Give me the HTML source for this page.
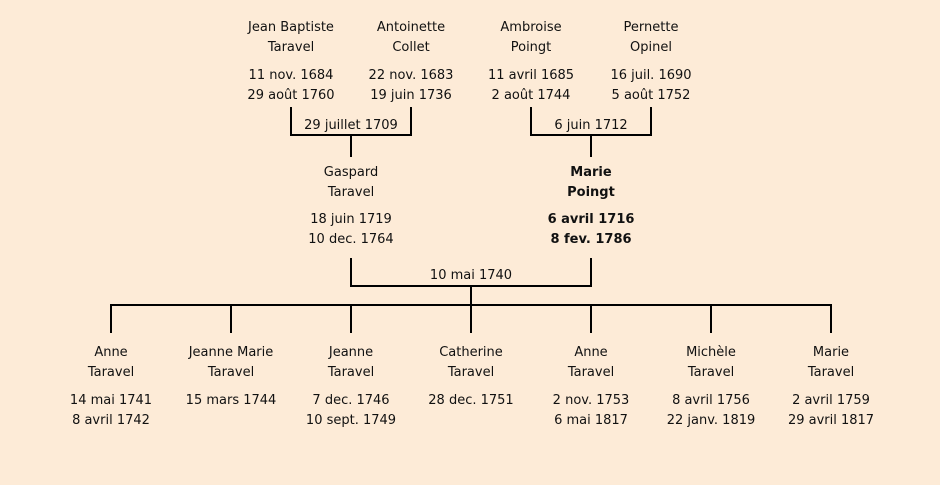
<!DOCTYPE html>
<html><head><meta charset="utf-8"><style>
body{margin:0;width:940px;height:485px;background:#fdebd7;position:relative;overflow:hidden;font-family:"DejaVu Sans","Liberation Sans",sans-serif;font-size:13px;color:#111}
.t{position:absolute;width:160px;margin-left:-80px;text-align:center;line-height:20px;white-space:nowrap}
.b{font-weight:bold}
.l{position:absolute;background:#000}
</style></head><body>
<div class="t" style="left:291px;top:18px">Jean Baptiste<br>Taravel</div>
<div class="t" style="left:291px;top:66px">11 nov. 1684<br>29 août 1760</div>
<div class="t" style="left:411px;top:18px">Antoinette<br>Collet</div>
<div class="t" style="left:411px;top:66px">22 nov. 1683<br>19 juin 1736</div>
<div class="t" style="left:531px;top:18px">Ambroise<br>Poingt</div>
<div class="t" style="left:531px;top:66px">11 avril 1685<br>2 août 1744</div>
<div class="t" style="left:651px;top:18px">Pernette<br>Opinel</div>
<div class="t" style="left:651px;top:66px">16 juil. 1690<br>5 août 1752</div>

<div class="l" style="left:290px;top:107px;width:2px;height:29px"></div>
<div class="l" style="left:410px;top:107px;width:2px;height:29px"></div>
<div class="l" style="left:290px;top:134px;width:122px;height:2px"></div>
<div class="l" style="left:350px;top:134px;width:2px;height:23px"></div>
<div class="t" style="left:351px;top:116px">29 juillet 1709</div>
<div class="l" style="left:530px;top:107px;width:2px;height:29px"></div>
<div class="l" style="left:650px;top:107px;width:2px;height:29px"></div>
<div class="l" style="left:530px;top:134px;width:122px;height:2px"></div>
<div class="l" style="left:590px;top:134px;width:2px;height:23px"></div>
<div class="t" style="left:591px;top:116px">6 juin 1712</div>

<div class="t" style="left:351px;top:163px">Gaspard<br>Taravel</div>
<div class="t" style="left:351px;top:210px">18 juin 1719<br>10 dec. 1764</div>
<div class="t b" style="left:591px;top:163px">Marie<br>Poingt</div>
<div class="t b" style="left:591px;top:210px">6 avril 1716<br>8 fev. 1786</div>

<div class="l" style="left:350px;top:258px;width:2px;height:29px"></div>
<div class="l" style="left:590px;top:258px;width:2px;height:29px"></div>
<div class="l" style="left:350px;top:285px;width:242px;height:2px"></div>
<div class="l" style="left:470px;top:285px;width:2px;height:21px"></div>
<div class="t" style="left:471px;top:266px">10 mai 1740</div>
<div class="l" style="left:110px;top:304px;width:722px;height:2px"></div>
<div class="l" style="left:110px;top:304px;width:2px;height:29px"></div>
<div class="l" style="left:230px;top:304px;width:2px;height:29px"></div>
<div class="l" style="left:350px;top:304px;width:2px;height:29px"></div>
<div class="l" style="left:470px;top:304px;width:2px;height:29px"></div>
<div class="l" style="left:590px;top:304px;width:2px;height:29px"></div>
<div class="l" style="left:710px;top:304px;width:2px;height:29px"></div>
<div class="l" style="left:830px;top:304px;width:2px;height:29px"></div>

<div class="t" style="left:111px;top:343px">Anne<br>Taravel</div>
<div class="t" style="left:111px;top:391px">14 mai 1741<br>8 avril 1742</div>
<div class="t" style="left:231px;top:343px">Jeanne Marie<br>Taravel</div>
<div class="t" style="left:231px;top:391px">15 mars 1744</div>
<div class="t" style="left:351px;top:343px">Jeanne<br>Taravel</div>
<div class="t" style="left:351px;top:391px">7 dec. 1746<br>10 sept. 1749</div>
<div class="t" style="left:471px;top:343px">Catherine<br>Taravel</div>
<div class="t" style="left:471px;top:391px">28 dec. 1751</div>
<div class="t" style="left:591px;top:343px">Anne<br>Taravel</div>
<div class="t" style="left:591px;top:391px">2 nov. 1753<br>6 mai 1817</div>
<div class="t" style="left:711px;top:343px">Michèle<br>Taravel</div>
<div class="t" style="left:711px;top:391px">8 avril 1756<br>22 janv. 1819</div>
<div class="t" style="left:831px;top:343px">Marie<br>Taravel</div>
<div class="t" style="left:831px;top:391px">2 avril 1759<br>29 avril 1817</div>
</body></html>
